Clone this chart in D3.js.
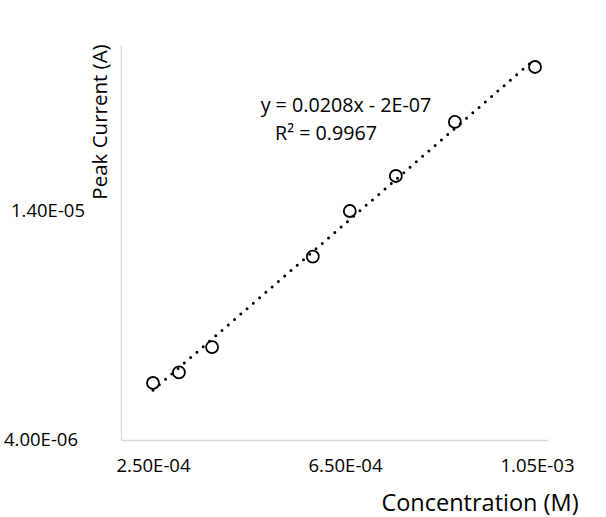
<!DOCTYPE html>
<html><head><meta charset="utf-8">
<script src="https://cdn.jsdelivr.net/npm/d3@7"></script>
<style>body{margin:0;background:#fff}svg{display:block}text{font-family:"Open Sans",sans-serif;fill:#000}</style>
</head><body><svg id="c" width="606" height="517"></svg>
<script>
const concentration = [2.50e-4, 3.04e-4, 3.73e-4, 5.83e-4, 6.60e-4, 7.56e-4, 8.79e-4, 1.046e-3];
const peakCurrent = [6.49e-6, 6.95e-6, 8.06e-6, 1.201e-5, 1.40e-5, 1.553e-5, 1.789e-5, 2.029e-5];
const xTicks = [2.5e-4, 6.5e-4, 1.05e-3];
const yTicks = [4e-6, 1.4e-5];
const xTickLabels = ["2.50E-04", "6.50E-04", "1.05E-03"];
const yTickLabels = ["4.00E-06", "1.40E-05"];
const equationLines = ["y = 0.0208x - 2E-07", "R² = 0.9967"];

const svg = d3.select("#c");
const x = d3.scaleLinear().domain([1.833e-4, 1.073e-3]).range([121, 548]);
const y = d3.scaleLinear().domain([4e-6, 2.125e-5]).range([440, 45]);

// axes
const xAxis = d3.axisBottom(x).tickValues(xTicks).tickSize(0).tickPadding(19)
  .tickFormat((d,i)=>xTickLabels[i]);
const gx = svg.append("g").attr("transform","translate(0,440)").call(xAxis);
gx.select(".domain").attr("stroke","#d9d9d9").attr("stroke-width",1.5);
gx.selectAll("text").attr("font-size",18.5).attr("font-family","Open Sans").attr("fill","#000");

const yAxis = d3.axisLeft(y).tickValues(yTicks).tickSize(0).tickPadding(36)
  .tickFormat((d,i)=>yTickLabels[i]);
const gy = svg.append("g").attr("transform","translate(121,0)").call(yAxis);
gy.select(".domain").attr("stroke","#d9d9d9").attr("stroke-width",1.5);
gy.selectAll("text").attr("font-size",18.5).attr("font-family","Open Sans").attr("fill","#000")
  .attr("dx",(d,i)=> i===0 ? -7 : 0);

// titles
svg.append("text").attr("x",480).attr("y",511).attr("text-anchor","middle")
  .attr("font-size",23.5).text("Concentration (M)");
svg.append("text").attr("transform","translate(107,122) rotate(-90)").attr("text-anchor","middle")
  .attr("font-size",20.5).text("Peak Current (A)");

// markers
svg.append("g").selectAll("circle").data(concentration).join("circle")
  .attr("cx",d=>x(d)).attr("cy",(d,i)=>y(peakCurrent[i])).attr("r",6)
  .attr("fill","none").attr("stroke","#000").attr("stroke-width",1.8);

// linear trendline (least squares)
const n = concentration.length;
const mx = d3.mean(concentration), my = d3.mean(peakCurrent);
let sxy=0, sxx=0;
for(let i=0;i<n;i++){sxy+=(concentration[i]-mx)*(peakCurrent[i]-my);sxx+=(concentration[i]-mx)**2;}
const slope = sxy/sxx, icpt = my - slope*mx;
const x0 = d3.min(concentration), x1 = d3.max(concentration);
svg.append("line").attr("x1",x(x0)).attr("y1",y(slope*x0+icpt))
  .attr("x2",x(x1)).attr("y2",y(slope*x1+icpt))
  .attr("stroke","#000").attr("stroke-width",3).attr("stroke-linecap","round")
  .attr("stroke-dasharray","0 8.3");

// equation label
svg.append("text").attr("x",346).attr("y",112).attr("text-anchor","middle").attr("font-size",19.7).text(equationLines[0]);
svg.append("text").attr("x",326).attr("y",140).attr("text-anchor","middle").attr("font-size",19.7).text(equationLines[1]);
</script></body></html>
